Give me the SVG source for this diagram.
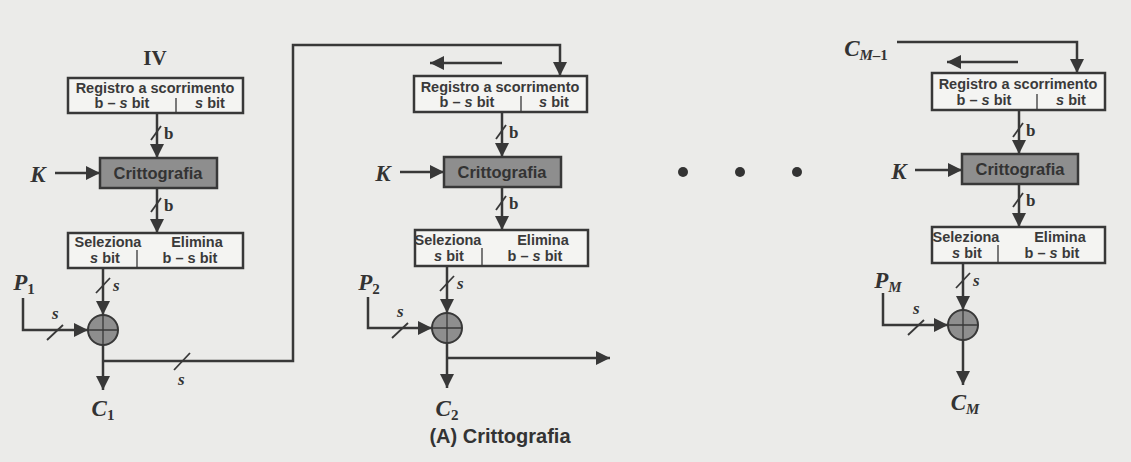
<svg xmlns="http://www.w3.org/2000/svg" width="1131" height="462" viewBox="0 0 1131 462">
<defs>
<marker id="ah" markerUnits="userSpaceOnUse" markerWidth="14" markerHeight="14" viewBox="0 0 12 12" refX="12" refY="6" orient="auto">
<path d="M0,0 L12,6 L0,12 z" fill="#383838"/>
</marker>
<style>
.ln{fill:none;stroke:#383838;stroke-width:2.5}
.ar{fill:none;stroke:#383838;stroke-width:2.5;marker-end:url(#ah)}
.sl{stroke:#383838;stroke-width:1.8}
.box{fill:#f4f4f2;stroke:#383838;stroke-width:2.5}
.crit{fill:#8e8e8e;stroke:#383838;stroke-width:2.5}
.div{stroke:#383838;stroke-width:1.3}
.bt{font-family:"Liberation Sans",Arial,sans-serif;font-weight:bold;font-size:14.5px;fill:#3a3a3a;text-anchor:middle}
.ct{font-family:"Liberation Sans",Arial,sans-serif;font-weight:bold;font-size:16.5px;fill:#333;text-anchor:middle}
.it{font-family:"Liberation Serif","Times New Roman",serif;font-weight:bold;font-style:italic;font-size:23px;fill:#333;text-anchor:middle}
.sub{font-style:normal;font-size:15px}
.subi{font-size:15px}
.sm{font-family:"Liberation Serif","Times New Roman",serif;font-weight:bold;font-size:17px;fill:#333}
.si{font-family:"Liberation Serif","Times New Roman",serif;font-weight:bold;font-style:italic;font-size:17px;fill:#333}
.xor{fill:#8e8e8e;stroke:#383838;stroke-width:2}
</style>
</defs>
<rect x="0" y="0" width="1131" height="462" fill="#ebebe9"/>

<g id="connectors">
<!-- column 1 -->
<path class="ar" d="M157,113 V158"/>
<line class="sl" x1="151" y1="140" x2="161" y2="126"/>
<text class="sm" x="164" y="139">b</text>
<path class="ar" d="M157,188 V233"/>
<line class="sl" x1="151" y1="212" x2="161" y2="198"/>
<text class="sm" x="164" y="211">b</text>
<path class="ar" d="M55,173 H100"/>
<path class="ar" d="M103,268 V315"/>
<line class="sl" x1="96" y1="293" x2="110" y2="278"/>
<text class="si" x="113" y="291">s</text>
<path class="ar" d="M23,298 V330 H88"/>
<line class="sl" x1="47" y1="340" x2="63" y2="325"/>
<text class="si" x="52" y="319">s</text>
<path class="ar" d="M103,345 V390"/>
<path class="ar" d="M103,361 H293 V45 H560 V76"/>
<line class="sl" x1="174" y1="370" x2="190" y2="353"/>
<text class="si" x="178" y="385">s</text>
<!-- column 2 -->
<path class="ar" d="M502,63 H430"/>
<path class="ar" d="M502,112 V157"/>
<line class="sl" x1="496" y1="139" x2="506" y2="125"/>
<text class="sm" x="509" y="138">b</text>
<path class="ar" d="M400,172 H444"/>
<path class="ar" d="M502,187 V230"/>
<line class="sl" x1="496" y1="210" x2="506" y2="196"/>
<text class="sm" x="509" y="209">b</text>
<path class="ar" d="M447,266 V313"/>
<line class="sl" x1="440" y1="291" x2="454" y2="276"/>
<text class="si" x="457" y="289">s</text>
<path class="ar" d="M368,297 V328 H432"/>
<line class="sl" x1="392" y1="338" x2="408" y2="323"/>
<text class="si" x="397" y="317">s</text>
<path class="ar" d="M447,343 V388"/>
<path class="ar" d="M447,358 H610"/>
<!-- column 3 -->
<path class="ar" d="M897,42 H1077 V73"/>
<path class="ar" d="M1018,62 H947"/>
<path class="ar" d="M1019,110 V154"/>
<line class="sl" x1="1013" y1="137" x2="1023" y2="123"/>
<text class="sm" x="1026" y="136">b</text>
<path class="ar" d="M915,170 H962"/>
<path class="ar" d="M1019,184 V227"/>
<line class="sl" x1="1013" y1="207" x2="1023" y2="193"/>
<text class="sm" x="1026" y="206">b</text>
<path class="ar" d="M963,263 V310"/>
<line class="sl" x1="956" y1="288" x2="970" y2="273"/>
<text class="si" x="973" y="286">s</text>
<path class="ar" d="M883,293 V325 H948"/>
<line class="sl" x1="908" y1="335" x2="924" y2="320"/>
<text class="si" x="913" y="314">s</text>
<path class="ar" d="M963,340 V385"/>
</g>

<text x="155" y="65" font-family="Liberation Serif,serif" font-weight="bold" font-size="21" fill="#333" text-anchor="middle">IV</text>

<!-- column 1 nodes -->
<g id="reg1">
<rect class="box" x="68" y="78" width="175" height="35"/>
<line class="div" x1="176" y1="98" x2="176" y2="113"/>
<text class="bt" x="155" y="93">Registro a scorrimento</text>
<text class="bt" x="122" y="108">b – <tspan font-style="italic">s</tspan> bit</text>
<text class="bt" x="210" y="108"><tspan font-style="italic">s</tspan> bit</text>
</g>
<g id="crit1">
<rect class="crit" x="100" y="158" width="117" height="30"/>
<text class="ct" x="158" y="179">Crittografia</text>
</g>
<g id="sel1">
<rect class="box" x="68" y="233" width="175" height="35"/>
<line class="div" x1="137" y1="250" x2="137" y2="268"/>
<text class="bt" x="108" y="247">Seleziona</text>
<text class="bt" x="197" y="247">Elimina</text>
<text class="bt" x="105" y="263"><tspan font-style="italic">s</tspan> bit</text>
<text class="bt" x="190" y="263">b – s bit</text>
</g>
<g id="xor1">
<circle class="xor" cx="103" cy="330" r="15"/>
<path class="div" d="M88,330 H118 M103,315 V345"/>
</g>
<g id="k1"><text class="it" x="38" y="182">K</text></g>
<g id="p1"><text class="it" x="24" y="290">P<tspan class="sub" dy="4">1</tspan></text></g>
<g id="c1"><text class="it" x="103" y="416">C<tspan class="sub" dy="4">1</tspan></text></g>

<!-- column 2 nodes -->
<g id="reg2">
<rect class="box" x="414" y="76" width="173" height="36"/>
<line class="div" x1="521" y1="96" x2="521" y2="112"/>
<text class="bt" x="500" y="92">Registro a scorrimento</text>
<text class="bt" x="467" y="107">b – <tspan font-style="italic">s</tspan> bit</text>
<text class="bt" x="554" y="107"><tspan font-style="italic">s</tspan> bit</text>
</g>
<g id="crit2">
<rect class="crit" x="444" y="157" width="117" height="30"/>
<text class="ct" x="502" y="178">Crittografia</text>
</g>
<g id="sel2">
<rect class="box" x="415" y="230" width="173" height="36"/>
<line class="div" x1="482" y1="248" x2="482" y2="266"/>
<text class="bt" x="448" y="245">Seleziona</text>
<text class="bt" x="543" y="245">Elimina</text>
<text class="bt" x="449" y="261"><tspan font-style="italic">s</tspan> bit</text>
<text class="bt" x="535" y="261">b – <tspan font-style="italic">s</tspan> bit</text>
</g>
<g id="xor2">
<circle class="xor" cx="447" cy="328" r="15"/>
<path class="div" d="M432,328 H462 M447,313 V343"/>
</g>
<g id="k2"><text class="it" x="383" y="181">K</text></g>
<g id="p2"><text class="it" x="369" y="290">P<tspan class="sub" dy="4">2</tspan></text></g>
<g id="c2"><text class="it" x="447" y="416">C<tspan class="sub" dy="4">2</tspan></text></g>

<g id="dots">
<circle cx="683" cy="172" r="5" fill="#333"/>
<circle cx="740" cy="172" r="5" fill="#333"/>
<circle cx="797" cy="172" r="5" fill="#333"/>
</g>

<!-- column 3 nodes -->
<g id="cm1"><text class="it" x="866" y="56">C<tspan class="subi" dy="4">M</tspan><tspan class="sub">–1</tspan></text></g>
<g id="reg3">
<rect class="box" x="932" y="73" width="173" height="37"/>
<line class="div" x1="1037" y1="94" x2="1037" y2="110"/>
<text class="bt" x="1018" y="89">Registro a scorrimento</text>
<text class="bt" x="984" y="105">b – <tspan font-style="italic">s</tspan> bit</text>
<text class="bt" x="1071" y="105"><tspan font-style="italic">s</tspan> bit</text>
</g>
<g id="crit3">
<rect class="crit" x="962" y="154" width="116" height="30"/>
<text class="ct" x="1020" y="175">Crittografia</text>
</g>
<g id="sel3">
<rect class="box" x="932" y="227" width="173" height="36"/>
<line class="div" x1="998" y1="245" x2="998" y2="263"/>
<text class="bt" x="966" y="242">Seleziona</text>
<text class="bt" x="1060" y="242">Elimina</text>
<text class="bt" x="967" y="258"><tspan font-style="italic">s</tspan> bit</text>
<text class="bt" x="1052" y="258">b – <tspan font-style="italic">s</tspan> bit</text>
</g>
<g id="xor3">
<circle class="xor" cx="963" cy="325" r="15"/>
<path class="div" d="M948,325 H978 M963,310 V340"/>
</g>
<g id="k3"><text class="it" x="899" y="179">K</text></g>
<g id="pm"><text class="it" x="888" y="288">P<tspan class="subi" dy="4">M</tspan></text></g>
<g id="cm"><text class="it" x="965" y="410">C<tspan class="subi" dy="4">M</tspan></text></g>

<text x="500" y="443" font-family="Liberation Sans,Arial,sans-serif" font-weight="bold" font-size="20" fill="#333" text-anchor="middle">(A) Crittografia</text>
</svg>
